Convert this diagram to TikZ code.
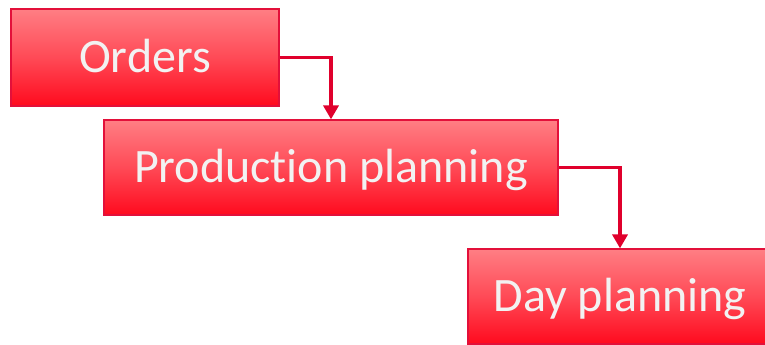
\documentclass[tikz,border=0pt]{standalone}
\usepackage{fontspec}
\setmainfont[Ligatures=NoCommon]{Carlito}
\usetikzlibrary{arrows.meta}
\definecolor{boxtop}{HTML}{FF7E84}
\definecolor{boxbot}{HTML}{FF0A1E}
\definecolor{boxedge}{HTML}{E3103A}
\definecolor{linkcol}{HTML}{E0002C}
\definecolor{txtcol}{HTML}{F2F2F2}
\tikzset{
  stepbox/.style={draw=boxedge, line width=1.2pt, top color=boxtop, bottom color=boxbot,
    middle color=boxtop!55!boxbot,
    text=txtcol, font=\fontsize{48}{52}\selectfont, inner sep=0pt, anchor=center,
    text height=30pt, text depth=0pt},
  link/.style={draw=linkcol, line width=3.8pt, -{Triangle[width=15pt,length=14pt]}}
}
\begin{document}
\begin{tikzpicture}[x=1pt,y=-1pt]
\useasboundingbox (0,0) rectangle (765,345);
\node[stepbox, minimum width=268pt, minimum height=97pt] (orders) at (145,57.5) {Orders};
\node[stepbox, minimum width=454pt, minimum height=95pt] (prod) at (331,167.5) {Production planning};
\node[stepbox, minimum width=304pt, minimum height=95pt] (day) at (620,296.5) {Day planning};
\draw[link] (orders.east) -| (prod.north);
\draw[link] (prod.east) -| (day.north);
\end{tikzpicture}
\end{document}
